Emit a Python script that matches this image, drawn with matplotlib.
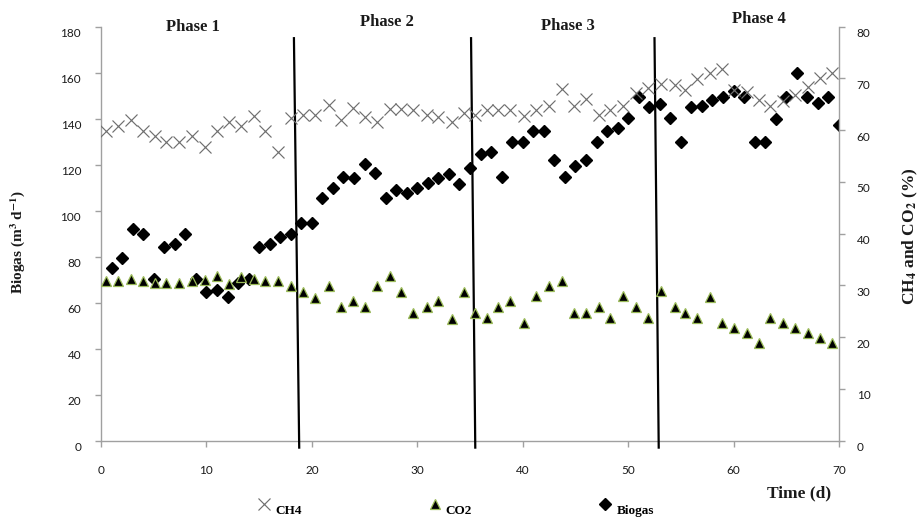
import matplotlib
matplotlib.use('Agg')
import matplotlib.pyplot as plt
from matplotlib.lines import Line2D
from matplotlib.legend_handler import HandlerLine2D
from matplotlib.transforms import ScaledTranslation

plt.rcParams['font.family'] = 'Lato'
plt.rcParams['mathtext.fontset'] = 'stix'

# sampling days for the gas composition (CH4 / CO2)
gas_days = [0.5, 1.6, 2.8, 4.0, 5.1, 6.2, 7.4, 8.6, 9.9, 11.0, 12.1, 13.3, 14.5, 15.6, 16.8, 18.0,
            19.2, 20.3, 21.6, 22.8, 23.9, 25.0, 26.2, 27.4, 28.5, 29.6, 30.9, 32.0, 33.3, 34.4, 35.5,
            36.6, 37.7, 38.8, 40.1, 41.3, 42.5, 43.7, 44.9, 46.0, 47.2, 48.3, 49.5, 50.7, 51.9,
            53.1, 54.4, 55.4, 56.5, 57.8, 58.9, 60.0, 61.3, 62.4, 63.5, 64.7, 65.8, 67.1, 68.2, 69.3]

ch4 = [59.9, 60.8, 62.0, 59.9, 58.9, 57.8, 57.8, 58.9, 56.8, 59.9, 61.6, 60.8, 62.8, 59.8, 55.8, 62.3,
       62.9, 62.9, 64.9, 62.0, 64.2, 62.6, 61.6, 64.0, 64.0, 63.9, 62.9, 62.6, 61.6, 63.3, 62.9,
       63.9, 63.9, 63.9, 62.7, 63.9, 64.7, 67.9, 64.7, 66.0, 62.9, 63.9, 64.7, 67.1, 68.2,
       69.0, 68.7, 67.8, 69.8, 71.0, 71.9, 67.8, 67.4, 65.8, 64.7, 65.6, 66.8, 68.4, 70.0, 71.0]

co2 = [30.9, 30.9, 31.2, 30.9, 30.5, 30.5, 30.5, 30.9, 31.0, 31.8, 30.2, 31.7, 31.2, 30.9, 30.9, 29.8,
       28.8, 27.6, 29.8, 25.8, 26.9, 25.8, 29.8, 31.8, 28.8, 24.6, 25.8, 26.9, 23.6, 28.8, 24.6,
       23.8, 25.9, 26.9, 22.8, 28.0, 29.8, 30.9, 24.6, 24.6, 25.9, 23.8, 28.0, 25.9, 23.8,
       28.9, 25.9, 24.6, 23.8, 27.8, 22.8, 21.7, 20.9, 18.8, 23.8, 22.8, 21.7, 20.9, 19.8, 18.8]

# daily biogas production
biogas_days = [1, 2, 3, 4, 5, 6, 7, 8, 9, 10, 11, 12, 13, 14, 15, 16, 17, 18, 19, 20,
               21, 22, 23, 24, 25, 26, 27, 28, 29, 30, 31, 32, 33, 34, 35, 36, 37, 38, 39, 40,
               41, 42, 43, 44, 45, 46, 47, 48, 49, 50, 51, 52, 53, 54, 55, 56, 57, 58, 59, 60,
               61, 62, 63, 64, 65, 66, 67, 68, 69, 70]

biogas = [74.9, 79.6, 91.9, 89.7, 70.1, 84.3, 85.4, 89.7, 70.1, 64.5,
          65.5, 62.6, 68.7, 70.1, 84.3, 85.4, 88.7, 89.7, 94.8, 94.8,
          105.7, 109.7, 114.8, 114.3, 120.1, 116.2, 105.7, 109.0, 107.8, 109.7,
          111.9, 114.3, 115.9, 111.4, 118.4, 124.8, 125.7, 114.5, 129.7, 129.7,
          134.6, 134.6, 122.0, 114.5, 119.6, 122.0, 129.7, 134.6, 135.8, 140.1,
          149.6, 144.9, 146.5, 140.1, 129.7, 144.9, 145.5, 148.1, 149.6, 152.2,
          149.6, 129.7, 129.7, 139.9, 149.6, 160.0, 149.6, 146.7, 149.6, 137.2]

phase_names = ['Phase 1', 'Phase 2', 'Phase 3', 'Phase 4']
phase_label_x = [8.7, 27.1, 44.3, 62.4]
phase_label_y = [180.0, 182.2, 180.3, 183.2]
# phase boundaries (hand drawn, slightly slanted)
phase_top = [18.3, 35.1, 52.5]
phase_bottom = [18.8, 35.5, 52.9]

grey = '#a0a0a0'
txt = '#1a1a1a'

fig = plt.figure(figsize=(9.19, 5.19), dpi=100)
ax = fig.add_axes([101 / 919, 1 - 440.7 / 519, 738 / 919, 414 / 519])
ax2 = ax.twinx()

h_bio, = ax.plot(biogas_days, biogas, 'D', color='black', ms=5.7, zorder=3)
h_ch4, = ax2.plot(gas_days, ch4, 'x', color='#6f6f6f', ms=8.5, mew=0.85)
h_co2, = ax2.plot(gas_days, co2, '^', mfc='black', mec='#9bbb59', ms=7, mew=0.9)

for xt, xb in zip(phase_top, phase_bottom):
    ax.plot([xt, xb], [175, -3], color='black', lw=1.6, clip_on=False, zorder=4)

for name, px, py in zip(phase_names, phase_label_x, phase_label_y):
    ax.text(px, py, name, ha='center', va='center', family='Liberation Serif',
            weight='bold', fontsize=12, color=txt, clip_on=False)

ax.set_xlim(0, 70)
ax.set_ylim(0, 180)
ax2.set_ylim(0, 80)
ax.set_xticks(range(0, 71, 10))
ax.set_yticks(range(0, 181, 20))
ax2.set_yticks(range(0, 81, 10))

for a in (ax, ax2):
    a.spines['top'].set_visible(False)
    for s in ('left', 'right', 'bottom'):
        a.spines[s].set_color(grey)
        a.spines[s].set_linewidth(1.0)
ax.spines['right'].set_visible(False)
ax2.spines['left'].set_visible(False)
ax2.spines['bottom'].set_visible(False)

ax.tick_params(axis='x', direction='out', length=4.3, width=1, color=grey, pad=13,
               labelsize=8.5, labelcolor=txt)
ax.tick_params(axis='y', direction='out', length=4.3, width=1, color=grey, pad=10,
               labelsize=8.5, labelcolor=txt)
ax2.tick_params(axis='y', direction='out', length=4.3, width=1, color=grey, pad=8.4,
                labelsize=8.5, labelcolor=txt)

# y tick labels sit a little below their ticks in the original
off = ScaledTranslation(0, -0.06, fig.dpi_scale_trans)
for lbl in ax.get_yticklabels() + ax2.get_yticklabels():
    lbl.set_transform(lbl.get_transform() + off)

fig.text(18 / 919, 1 - 241.7 / 519, r'Biogas (m$^\mathbf{3}$ d$^\mathbf{-1}$)', rotation=90,
         ha='center', va='center', family='Liberation Serif', weight='bold', fontsize=11, color=txt)
fig.text(910.7 / 919, 1 - 236 / 519, r'CH$_\mathbf{4}$ and CO$_\mathbf{2}$ (%)', rotation=90,
         ha='center', va='center', family='Liberation Serif', weight='bold', fontsize=12.5, color=txt)
fig.text(799 / 919, 1 - 493.3 / 519, 'Time (d)', ha='center', va='center',
         family='Liberation Serif', weight='bold', fontsize=12.5, color=txt)


class RaisedHandler(HandlerLine2D):
    # legend markers sit above the text line in the original
    def create_artists(self, legend, orig_handle, xdescent, ydescent, width, height, fontsize, trans):
        return super().create_artists(legend, orig_handle, xdescent, ydescent - 7,
                                      width, height, fontsize, trans)


fig.legend([h_ch4, h_co2, h_bio], ['CH4', 'CO2', 'Biogas'], ncol=3, frameon=False,
           loc='center left', bbox_to_anchor=(0.2803, 0.016), borderpad=0, borderaxespad=0,
           handlelength=1.0, handletextpad=0.33, columnspacing=9.6, numpoints=1,
           prop={'family': 'Liberation Serif', 'weight': 'bold', 'size': 9.5},
           handler_map={Line2D: RaisedHandler()})

fig.savefig('out.png', dpi=100)
